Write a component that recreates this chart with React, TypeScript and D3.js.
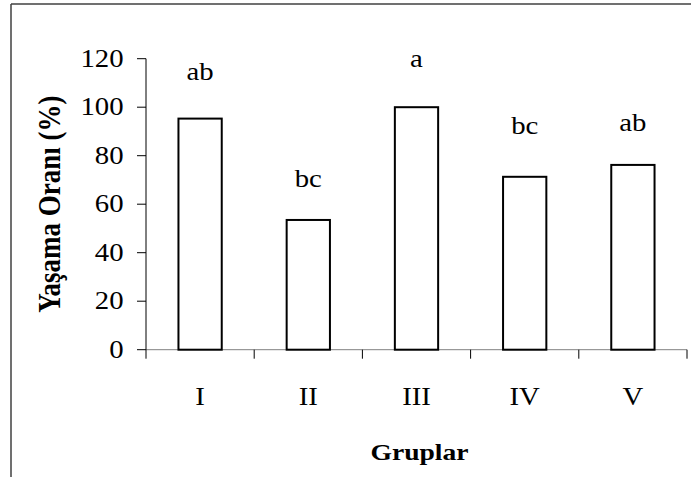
import React from "react";
import * as d3 from "d3";

const categories: string[] = ["I", "II", "III", "IV", "V"];
const survival: number[] = [95.3, 53.5, 100, 71.3, 76.2];
const letters: string[] = ["ab", "bc", "a", "bc", "ab"];
const letterLevels: number[] = [111.2, 67.2, 116.6, 89, 90.3];
const yTicks: number[] = [0, 20, 40, 60, 80, 100, 120];

const W = 691;
const H = 477;
const left = 146;
const right = 687;
const top = 58.7;
const bottom = 349.7;
const font = "Liberation Serif, Times New Roman, Times, DejaVu Serif, serif";
const stretch = 1.15;

function T({
  x,
  y,
  anchor,
  size,
  bold,
  children,
}: {
  x: number;
  y: number;
  anchor: string;
  size: number;
  bold?: boolean;
  children: React.ReactNode;
}) {
  return (
    <text
      transform={`translate(${x},${y}) scale(${stretch},1)`}
      textAnchor={anchor}
      fontSize={size}
      fontWeight={bold ? "bold" : "normal"}
      fill="#000"
      style={{ fontFamily: font }}
    >
      {children}
    </text>
  );
}

export default function App() {
  const x = d3
    .scaleBand<string>()
    .domain(categories)
    .range([left, right])
    .paddingInner(0.6)
    .paddingOuter(0.3);
  const y = d3.scaleLinear().domain([0, 120]).range([bottom, top]);
  const step = x.step();
  const boundaries = d3.range(categories.length + 1).map((i) => left + i * step);
  const cx = (c: string) => (x(c) as number) + x.bandwidth() / 2;

  return (
    <svg
      width={W}
      height={H}
      style={{ position: "absolute", left: 0, top: 0, background: "#fff", fontFamily: font }}
    >
      <rect x={0} y={0} width={W} height={H} fill="#fff" />
      {/* frame */}
      <line x1={11} y1={4} x2={W} y2={4} stroke="#404040" strokeWidth={1.5} />
      <line x1={11} y1={4} x2={11} y2={H} stroke="#404040" strokeWidth={1.5} />

      {/* x axis */}
      <line x1={left} y1={y(0)} x2={right} y2={y(0)} stroke="#808080" strokeWidth={1} />
      {boundaries.map((bx, i) => (
        <line key={i} x1={bx} x2={bx} y1={y(0)} y2={y(0) + 9} stroke="#000" strokeWidth={1} />
      ))}

      {/* bars */}
      {survival.map((v, i) => (
        <rect
          key={categories[i]}
          x={x(categories[i])}
          y={y(v)}
          width={x.bandwidth()}
          height={y(0) - y(v)}
          fill="#fff"
          stroke="#000"
          strokeWidth={2}
        />
      ))}

      {/* y axis */}
      <line x1={left} y1={y(120)} x2={left} y2={y(0)} stroke="#000" strokeWidth={1} />
      {yTicks.map((t) => (
        <g key={t}>
          <line x1={left - 9} x2={left} y1={y(t)} y2={y(t)} stroke="#000" strokeWidth={1} />
          <T x={123.5} y={y(t) + 8} anchor="end" size={25}>
            {t}
          </T>
        </g>
      ))}

      {categories.map((c) => (
        <T key={c} x={cx(c)} y={405} anchor="middle" size={25}>
          {c}
        </T>
      ))}

      {/* significance letters */}
      {letters.map((l, i) => (
        <T key={i} x={cx(categories[i])} y={y(letterLevels[i])} anchor="middle" size={25}>
          {l}
        </T>
      ))}

      {/* titles */}
      <T x={(left + right) / 2 + 3} y={460} anchor="middle" size={24} bold>
        Gruplar
      </T>
      <text
        transform={`translate(60, ${(top + bottom) / 2}) rotate(-90) scale(1, ${stretch})`}
        textAnchor="middle"
        fontSize={27}
        fontWeight="bold"
        fill="#000"
        style={{ fontFamily: font }}
      >
        Yaşama Oranı (%)
      </text>
    </svg>
  );
}
